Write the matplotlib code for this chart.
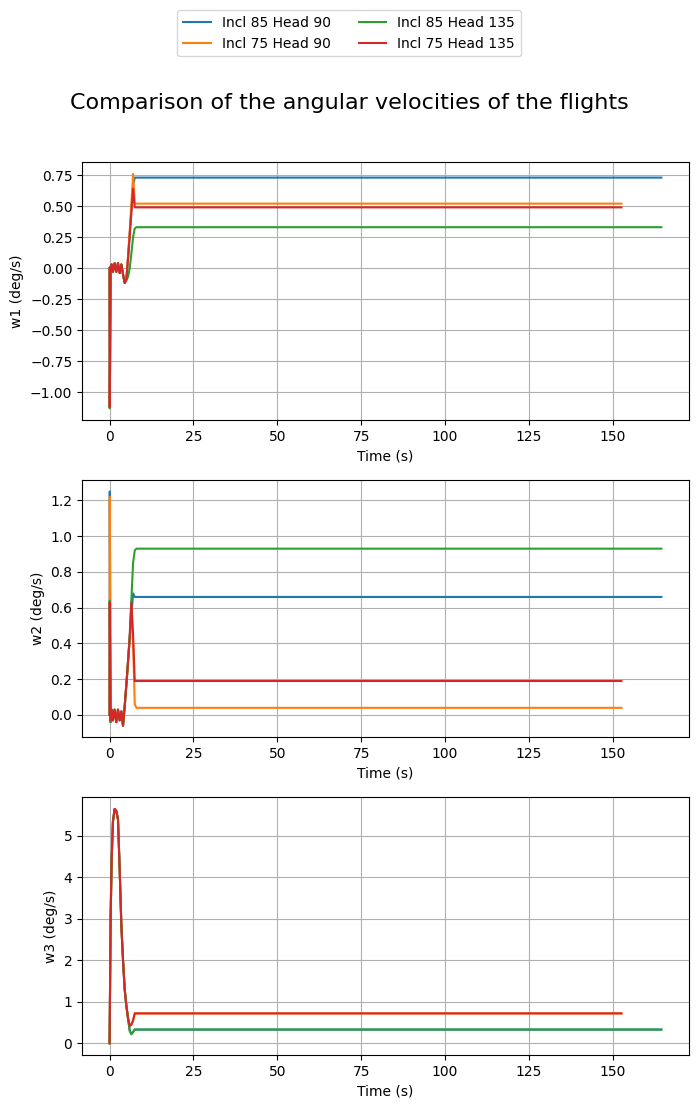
"""Angular velocity comparison of four flights (w1, w2, w3 versus time)."""

import matplotlib

matplotlib.use("Agg")
import matplotlib.pyplot as plt

# Sample times (s); the long flights end at 164.5 s, the short ones at 152.6 s.
T_LONG = [0, 0.05, 0.3, 0.6, 1.0, 1.5, 2.0, 2.5, 3.0, 3.5, 4.0, 4.5, 5.0, 5.5, 6.0, 6.5, 7.0, 7.5, 8.0, 164.5]
T_SHORT = [0, 0.05, 0.3, 0.6, 1.0, 1.5, 2.0, 2.5, 3.0, 3.5, 4.0, 4.5, 5.0, 5.5, 6.0, 6.5, 7.0, 7.5, 8.0, 152.6]

LABELS = ["Incl 85 Head 90", "Incl 75 Head 90", "Incl 85 Head 135", "Incl 75 Head 135"]
COLORS = ["#1f77b4", "#ff7f0e", "#2ca02c", "#d62728"]

W1 = [
    [0, -1.13, 0.01, 0.03, -0.03, 0.04, -0.03, 0.04, -0.04, 0.03, -0.05, -0.12, -0.09, 0.08, 0.28, 0.48, 0.66, 0.73, 0.73, 0.73],
    [0, -1.13, 0.01, 0.03, -0.03, 0.04, -0.03, 0.04, -0.04, 0.03, -0.05, -0.12, -0.09, 0.10, 0.30, 0.52, 0.76, 0.52, 0.52, 0.52],
    [0, -1.13, 0.01, 0.03, -0.03, 0.04, -0.03, 0.04, -0.04, 0.03, -0.05, -0.12, -0.10, -0.07, 0.00, 0.12, 0.25, 0.32, 0.33, 0.33],
    [0, -1.12, 0.01, 0.03, -0.03, 0.04, -0.03, 0.04, -0.04, 0.03, -0.05, -0.12, -0.09, 0.08, 0.26, 0.45, 0.64, 0.49, 0.49, 0.49],
]
W2 = [
    [0, 1.25, -0.04, 0.03, -0.03, 0.03, -0.04, 0.03, -0.03, 0.02, -0.06, 0.05, 0.17, 0.30, 0.43, 0.56, 0.68, 0.66, 0.66, 0.66],
    [0, 1.22, -0.04, 0.03, -0.03, 0.03, -0.04, 0.03, -0.03, 0.02, -0.06, 0.05, 0.17, 0.30, 0.43, 0.60, 0.40, 0.06, 0.04, 0.04],
    [0, 0.64, -0.04, 0.03, -0.03, 0.03, -0.04, 0.03, -0.03, 0.02, -0.06, 0.05, 0.17, 0.30, 0.45, 0.65, 0.85, 0.92, 0.93, 0.93],
    [0, 0.63, -0.03, 0.03, -0.03, 0.03, -0.04, 0.03, -0.03, 0.02, -0.06, 0.05, 0.17, 0.30, 0.43, 0.63, 0.45, 0.19, 0.19, 0.19],
]
W3 = [
    [0, 0.5, 3.0, 4.4, 5.35, 5.65, 5.6, 5.4, 4.2, 2.85, 2.0, 1.3, 0.9, 0.6, 0.30, 0.22, 0.27, 0.33, 0.33, 0.33],
    [0, 0.5, 3.0, 4.4, 5.35, 5.65, 5.6, 5.4, 4.2, 2.85, 2.0, 1.3, 0.9, 0.6, 0.42, 0.45, 0.55, 0.72, 0.72, 0.72],
    [0, 0.5, 3.0, 4.4, 5.35, 5.65, 5.6, 5.4, 4.2, 2.85, 2.0, 1.3, 0.9, 0.6, 0.30, 0.22, 0.27, 0.33, 0.33, 0.33],
    [0, 0.5, 3.0, 4.4, 5.35, 5.65, 5.6, 5.4, 4.2, 2.85, 2.0, 1.3, 0.9, 0.6, 0.42, 0.45, 0.55, 0.72, 0.72, 0.72],
]

fig, axes = plt.subplots(3, 1, figsize=(6.98, 11.07))
fig.subplots_adjust(left=0.1175, right=0.987, top=0.8535, bottom=0.047, hspace=0.232)

times = [T_LONG, T_SHORT, T_LONG, T_SHORT]
for ax, data, name in zip(axes, (W1, W2, W3), ("w1", "w2", "w3")):
    for t, vals, label, color in zip(times, data, LABELS, COLORS):
        ax.plot(t, vals, label=label, color=color)
    ax.set_xlabel("Time (s)")
    ax.set_ylabel(f"{name} (deg/s)")
    ax.grid(True)

handles, labels = axes[0].get_legend_handles_labels()
fig.legend(handles, labels, loc="upper center", ncol=2, bbox_to_anchor=(0.5, 0.997))
fig.suptitle("Comparison of the angular velocities of the flights", fontsize=16, y=0.916)
fig.savefig("out.png", dpi=100)
